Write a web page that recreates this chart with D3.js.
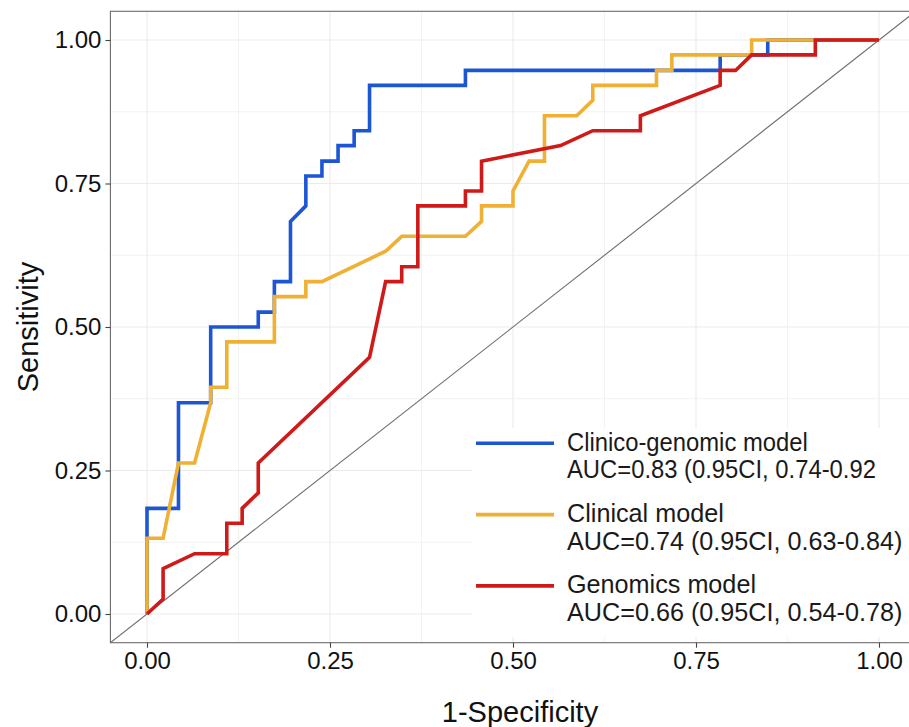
<!DOCTYPE html>
<html>
<head>
<meta charset="utf-8">
<script src="https://cdn.jsdelivr.net/npm/d3@7"></script>
<style>
    html, body { margin: 0; padding: 0; background: #fff; }
    svg { display: block; font-family: "Liberation Sans", Arial, sans-serif; }
</style>
</head>
<body>
<svg id="chart" width="909" height="727"></svg>
<script>
// ROC curves: x = 1-specificity, y = sensitivity
const clinGenFpr = [0, 0, 0.043, 0.043, 0.087, 0.087, 0.152, 0.152, 0.174, 0.174, 0.196, 0.196, 0.217, 0.217, 0.239, 0.239, 0.261, 0.261, 0.283, 0.283, 0.304, 0.304, 0.435, 0.435, 0.783, 0.783, 0.848, 0.848, 1];
const clinGenTpr = [0, 0.184, 0.184, 0.368, 0.368, 0.5, 0.5, 0.526, 0.526, 0.579, 0.579, 0.684, 0.711, 0.763, 0.763, 0.789, 0.789, 0.816, 0.816, 0.842, 0.842, 0.921, 0.921, 0.947, 0.947, 0.974, 0.974, 1, 1];

const clinicalFpr = [0, 0, 0.022, 0.043, 0.065, 0.087, 0.087, 0.109, 0.109, 0.174, 0.174, 0.217, 0.217, 0.239, 0.326, 0.348, 0.435, 0.457, 0.457, 0.5, 0.5, 0.522, 0.543, 0.543, 0.587, 0.609, 0.609, 0.696, 0.696, 0.717, 0.717, 0.826, 0.826, 1];
const clinicalTpr = [0, 0.132, 0.132, 0.263, 0.263, 0.368, 0.395, 0.395, 0.474, 0.474, 0.553, 0.553, 0.579, 0.579, 0.632, 0.658, 0.658, 0.684, 0.711, 0.711, 0.737, 0.789, 0.789, 0.868, 0.868, 0.895, 0.921, 0.921, 0.947, 0.947, 0.974, 0.974, 1, 1];

const genomicsFpr = [0, 0.022, 0.022, 0.065, 0.109, 0.109, 0.130, 0.130, 0.152, 0.152, 0.304, 0.326, 0.348, 0.348, 0.370, 0.370, 0.435, 0.435, 0.457, 0.457, 0.565, 0.609, 0.674, 0.674, 0.783, 0.783, 0.804, 0.826, 0.913, 0.913, 1];
const genomicsTpr = [0, 0.026, 0.079, 0.105, 0.105, 0.158, 0.158, 0.184, 0.211, 0.263, 0.447, 0.579, 0.579, 0.605, 0.605, 0.711, 0.711, 0.737, 0.737, 0.789, 0.816, 0.842, 0.842, 0.868, 0.921, 0.947, 0.947, 0.974, 0.974, 1, 1];

const seriesNames = ['Clinico-genomic model', 'Clinical model', 'Genomics model'];
const seriesAuc = ['AUC=0.83 (0.95CI, 0.74-0.92', 'AUC=0.74 (0.95CI, 0.63-0.84)', 'AUC=0.66 (0.95CI, 0.54-0.78)'];
const seriesColors = ['#1c56d4', '#efb034', '#d01a1a'];
// first legend entry is set a little narrower in the original
const labelSqueeze = [0.945, 1, 1];

const tickValues = [0, 0.25, 0.5, 0.75, 1];
const minorTicks = [0.125, 0.375, 0.625, 0.875];

const series = [
    { fpr: clinGenFpr, tpr: clinGenTpr },
    { fpr: clinicalFpr, tpr: clinicalTpr },
    { fpr: genomicsFpr, tpr: genomicsTpr },
];

// Panel geometry (ggplot-like 5% expansion on both axes)
const panel = { left: 110.4, right: 915.6, top: 11.3, bottom: 642.7 };

const svg = d3.select('#chart');

const x = d3.scaleLinear().domain([-0.05, 1.05]).range([panel.left, panel.right]);
const y = d3.scaleLinear().domain([-0.05, 1.05]).range([panel.bottom, panel.top]);

svg.append('rect')
    .attr('width', 909).attr('height', 727)
    .attr('fill', '#fff');

svg.append('defs').append('clipPath').attr('id', 'panel-clip')
    .append('rect')
    .attr('x', panel.left).attr('y', panel.top)
    .attr('width', panel.right - panel.left)
    .attr('height', panel.bottom - panel.top);

const plot = svg.append('g').attr('clip-path', 'url(#panel-clip)');

// ── Grid ─────────────────────────────────────────────
const grid = plot.append('g');
for (const [vals, sw, col] of [[minorTicks, 1, '#f2f2f2'], [tickValues, 1.1, '#ebebeb']]) {
    grid.selectAll(null).data(vals).enter().append('line')
        .attr('x1', d => x(d)).attr('x2', d => x(d))
        .attr('y1', panel.top).attr('y2', panel.bottom)
        .attr('stroke', col).attr('stroke-width', sw);
    grid.selectAll(null).data(vals).enter().append('line')
        .attr('y1', d => y(d)).attr('y2', d => y(d))
        .attr('x1', panel.left).attr('x2', panel.right)
        .attr('stroke', col).attr('stroke-width', sw);
}

// Reference diagonal
plot.append('line')
    .attr('x1', x(-0.05)).attr('y1', y(-0.05))
    .attr('x2', x(1.05)).attr('y2', y(1.05))
    .attr('stroke', '#6e6e6e').attr('stroke-width', 1.1);

// ── Curves ───────────────────────────────────────────
const line = d3.line()
    .x(d => x(d[0]))
    .y(d => y(d[1]));

series.forEach((s, i) => {
    const pts = s.fpr.map((f, k) => [f, s.tpr[k]]);
    plot.append('path')
        .datum(pts)
        .attr('fill', 'none')
        .attr('stroke', seriesColors[i])
        .attr('stroke-width', 3.6)
        .attr('stroke-linejoin', 'miter')
        .attr('d', line);
});

// ── Legend (inside panel) ────────────────────────────
const legend = svg.append('g');
legend.append('rect')
    .attr('x', 472).attr('y', 428)
    .attr('width', 909 - 472).attr('height', 209)
    .attr('fill', '#fff');

seriesNames.forEach((name, i) => {
    const ky = 443.3 + i * 71.3;
    legend.append('line')
        .attr('x1', 476).attr('x2', 554)
        .attr('y1', ky).attr('y2', ky)
        .attr('stroke', seriesColors[i]).attr('stroke-width', 3.6);
    const lab = legend.append('g')
        .attr('transform', `translate(567,0) scale(${labelSqueeze[i]},1)`);
    lab.append('text')
        .attr('x', 0).attr('y', ky + 7.5)
        .attr('font-size', 25.2).attr('fill', '#1a1a1a')
        .text(name);
    lab.append('text')
        .attr('x', 0).attr('y', ky + 35)
        .attr('font-size', 25.2).attr('fill', '#1a1a1a')
        .text(seriesAuc[i]);
});

// Panel border
svg.append('rect')
    .attr('x', panel.left).attr('y', panel.top)
    .attr('width', panel.right - panel.left)
    .attr('height', panel.bottom - panel.top)
    .attr('fill', 'none').attr('stroke', '#6b6b6b').attr('stroke-width', 1.1);

// ── Axes ─────────────────────────────────────────────
const fmt = d3.format('.2f');

const xAxis = svg.append('g')
    .attr('transform', `translate(0,${panel.bottom})`)
    .call(d3.axisBottom(x).tickValues(tickValues).tickFormat(fmt).tickSizeOuter(0).tickSize(5).tickPadding(4));
const yAxis = svg.append('g')
    .attr('transform', `translate(${panel.left},0)`)
    .call(d3.axisLeft(y).tickValues(tickValues).tickFormat(fmt).tickSizeOuter(0).tickSize(5).tickPadding(4));

for (const ax of [xAxis, yAxis]) {
    ax.select('.domain').remove();
    ax.selectAll('.tick line').attr('stroke', '#444').attr('stroke-width', 1.1);
    ax.selectAll('.tick text')
        .attr('font-family', '"Liberation Sans", Arial, sans-serif')
        .attr('font-size', 24).attr('fill', '#111');
}

// Axis titles
svg.append('text')
    .attr('x', 520).attr('y', 722)
    .attr('text-anchor', 'middle')
    .attr('font-size', 29).attr('fill', '#111')
    .text('1-Specificity');

svg.append('text')
    .attr('transform', 'translate(38,327) rotate(-90)')
    .attr('text-anchor', 'middle')
    .attr('font-size', 29).attr('fill', '#111')
    .text('Sensitivity');
</script>
</body>
</html>
